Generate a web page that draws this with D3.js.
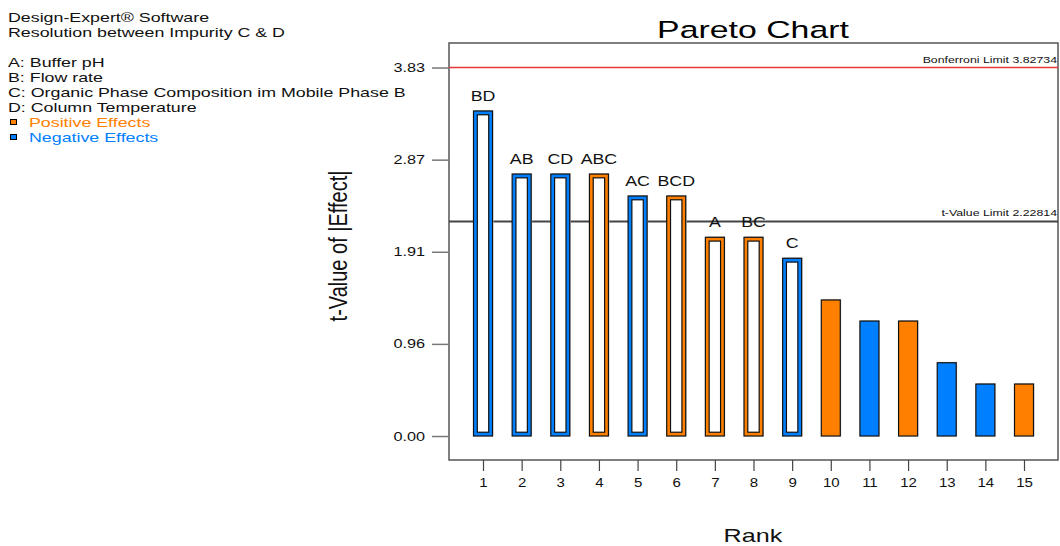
<!DOCTYPE html>
<html>
<head>
<meta charset="utf-8">
<script src="https://cdn.jsdelivr.net/npm/d3@7"></script>
<style>
  body { margin: 0; background: #fff; }
  svg { display: block; font-family: "Liberation Sans", Arial, sans-serif; }
</style>
</head>
<body>
<svg id="chart" width="1060" height="546"></svg>
<script>
// ---- data ----
const ranks = [1, 2, 3, 4, 5, 6, 7, 8, 9, 10, 11, 12, 13, 14, 15];
const effectNames = ["BD", "AB", "CD", "ABC", "AC", "BCD", "A", "BC", "C", "", "", "", "", "", ""];
const tValues = [3.376, 2.721, 2.721, 2.721, 2.493, 2.493, 2.064, 2.064, 1.846, 1.413, 1.194, 1.194, 0.761, 0.540, 0.540];
const effectSigns = ["neg", "neg", "neg", "pos", "neg", "pos", "pos", "pos", "neg", "pos", "neg", "pos", "neg", "neg", "pos"];
const inModel = [true, true, true, true, true, true, true, true, true, false, false, false, false, false, false];
const yTickValues = [0, 0.9568, 1.9137, 2.8705, 3.8273];
const yTickLabels = ["0.00", "0.96", "1.91", "2.87", "3.83"];
const bonferroniLimit = 3.82734;
const tValueLimit = 2.22814;
const factorLines = ["A: Buffer pH", "B: Flow rate", "C: Organic Phase Composition im Mobile Phase B", "D: Column Temperature"];
const headerLines = ["Design-Expert\u00AE Software", "Resolution between Impurity C & D"];
const legendItems = [{ key: "pos", label: "Positive Effects" }, { key: "neg", label: "Negative Effects" }];

// ---- style ----
const colors = { pos: "#ff8000", neg: "#0080ff" };
const svg = d3.select("#chart");
const frame = { left: 449, right: 1058, top: 43, bottom: 460 };

const x = d3.scaleLinear().domain([0.12, 15.88]).range([frame.left, frame.right]);
const y = d3.scaleLinear().domain([-0.249, 4.082]).range([frame.bottom, frame.top]);
const barW = 19;

// text with horizontal stretch (the reference glyphs are wide)
function wideText(parent, tx, ty, txt, size, sx, anchor, fill) {
  return parent.append("text")
    .attr("transform", `translate(${tx},${ty}) scale(${sx},1)`)
    .attr("text-anchor", anchor || "start")
    .attr("font-size", size)
    .attr("fill", fill || "#111")
    .text(txt);
}

// header texts
const hdr = svg.append("g");
const HSX = 1.37;
headerLines.forEach((t, i) => wideText(hdr, 8, 22 + i * 15, t, 13, HSX));
factorLines.forEach((t, i) => wideText(hdr, 8, 67 + i * 15, t, 13, HSX));
legendItems.forEach((d, i) => {
  const yy = 127 + i * 15;
  hdr.append("rect").attr("x", 10.5).attr("y", yy - 7.5).attr("width", 6).attr("height", 5)
    .attr("fill", colors[d.key]).attr("stroke", "#000").attr("stroke-width", 1);
  wideText(hdr, 29, yy, d.label, 13, HSX, "start", colors[d.key]);
});

// title
wideText(svg, 753, 38, "Pareto Chart", 23.5, 1.44, "middle", "#000");

// frame
svg.append("rect").attr("x", frame.left).attr("y", frame.top)
  .attr("width", frame.right - frame.left).attr("height", frame.bottom - frame.top)
  .attr("fill", "none").attr("stroke", "#555").attr("stroke-width", 1.5);

// y axis
const YSX = 1.3;
const yAxis = d3.axisLeft(y).tickValues(yTickValues).tickSize(17).tickPadding(7)
  .tickFormat((d, i) => yTickLabels[i]);
const gy = svg.append("g").attr("transform", `translate(${frame.left},0)`).call(yAxis);
gy.select(".domain").remove();
gy.selectAll(".tick line").attr("stroke", "#777").attr("stroke-width", 1.5);
gy.selectAll(".tick text").attr("font-size", 12.5).attr("fill", "#111")
  .attr("font-family", "Liberation Sans, Arial, sans-serif")
  .attr("x", -24 / YSX).attr("transform", `scale(${YSX},1)`);

// x axis
const xAxis = d3.axisBottom(x).tickValues(ranks).tickSize(11).tickPadding(7).tickFormat(d3.format("d"));
const gx = svg.append("g").attr("transform", `translate(0,${frame.bottom})`).call(xAxis);
gx.select(".domain").remove();
gx.selectAll(".tick line").attr("stroke", "#444").attr("stroke-width", 1.2);
gx.selectAll(".tick text").attr("font-size", 12).attr("fill", "#111")
  .attr("font-family", "Liberation Sans, Arial, sans-serif")
  .attr("transform", "scale(1.25,1)");

// limit lines
svg.append("line").attr("x1", frame.left).attr("x2", frame.right)
  .attr("y1", y(bonferroniLimit)).attr("y2", y(bonferroniLimit))
  .attr("stroke", "#e8383d").attr("stroke-width", 1.5);
wideText(svg, frame.right - 1, y(bonferroniLimit) - 5,
  "Bonferroni Limit " + bonferroniLimit.toFixed(5), 9.5, 1.3, "end");
svg.append("line").attr("x1", frame.left).attr("x2", frame.right)
  .attr("y1", y(tValueLimit)).attr("y2", y(tValueLimit))
  .attr("stroke", "#444").attr("stroke-width", 1.8);
wideText(svg, frame.right - 1, y(tValueLimit) - 5,
  "t-Value Limit " + tValueLimit.toFixed(5), 9.5, 1.3, "end");

// bars
const data = ranks.map((r, i) => ({ r, v: tValues[i], name: effectNames[i], sign: effectSigns[i], hollow: inModel[i] }));
const bars = svg.append("g");
bars.selectAll("rect.shadow").data(data).join("rect").attr("class", "shadow")
  .attr("x", d => x(d.r) - barW / 2 + 1).attr("y", d => y(d.v) - 1)
  .attr("width", barW).attr("height", d => y(0) - y(d.v) + 1)
  .attr("fill", "#cfcfcf");
bars.selectAll("rect.bar").data(data).join("rect").attr("class", "bar")
  .attr("x", d => x(d.r) - barW / 2).attr("y", d => y(d.v))
  .attr("width", barW).attr("height", d => y(0) - y(d.v))
  .attr("fill", d => colors[d.sign]).attr("stroke", "#111").attr("stroke-width", 1.2);
const inset = 3.8;
bars.selectAll("rect.inner").data(data.filter(d => d.hollow)).join("rect").attr("class", "inner")
  .attr("x", d => x(d.r) - barW / 2 + inset).attr("y", d => y(d.v) + inset)
  .attr("width", barW - 2 * inset).attr("height", d => y(0) - y(d.v) - 2 * inset)
  .attr("fill", "#fff").attr("stroke", "#111").attr("stroke-width", 1.2);
data.filter(d => d.name).forEach(d => {
  wideText(bars, x(d.r), y(d.v) - 10, d.name, 14, 1.27, "middle");
});

// axis titles
svg.append("text").attr("transform", "translate(347,246) rotate(-90) scale(1,1.3)")
  .attr("text-anchor", "middle").attr("font-size", 20).attr("fill", "#111")
  .text("t-Value of |Effect|");
wideText(svg, 753, 542, "Rank", 18, 1.4, "middle");
</script>
</body>
</html>
